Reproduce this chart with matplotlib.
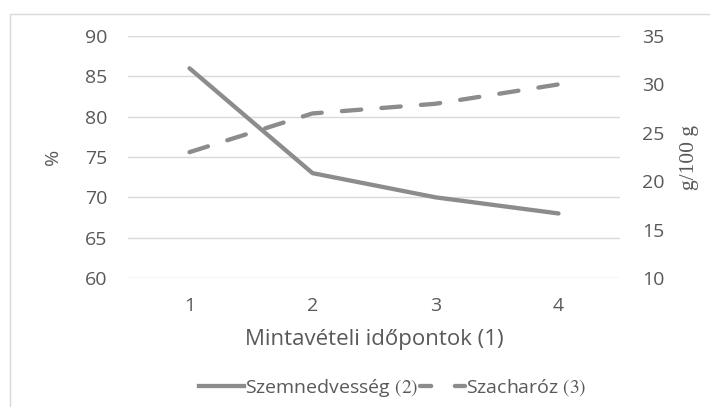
import matplotlib.pyplot as plt
from matplotlib.lines import Line2D
from matplotlib.patches import Rectangle

# data
idopont = [1, 2, 3, 4]
szemnedvesseg = [86, 73, 70, 68]      # %, left axis
szacharoz = [23, 27, 28, 30]          # g/100 g, right axis
left_ticks = [60, 65, 70, 75, 80, 85, 90]
right_ticks = [10, 15, 20, 25, 30, 35]

plt.rcParams['font.family'] = ['Open Sans', 'DejaVu Sans']
plt.rcParams['mathtext.fontset'] = 'stix'

line_col = '#8c8c8c'
text_col = '#595959'
grid_col = '#d9d9d9'

fig = plt.figure(figsize=(7.1, 4.07), dpi=100)
ax = fig.add_axes([128 / 710, 1 - 278 / 407, 492 / 710, 242 / 407])
ax2 = ax.twinx()

# outer chart frame (only left and top edges visible)
fig.patches.append(Rectangle((10 / 710, -0.5), 1.5, 1.5 - 14 / 407,
                             transform=fig.transFigure, fill=False,
                             edgecolor=grid_col, linewidth=1))

ax.set_xlim(0.5, 4.5)
ax.set_ylim(60, 90)
ax2.set_ylim(10, 35)
ax.set_yticks(left_ticks)
ax2.set_yticks(right_ticks)
ax.set_xticks(idopont)
ax.grid(axis='y', color=grid_col, linewidth=1)
ax.set_axisbelow(True)

for a in (ax, ax2):
    for s in a.spines.values():
        s.set_visible(False)
    a.tick_params(length=0, labelsize=14, labelcolor=text_col)
ax.tick_params(axis='y', pad=15)
ax2.tick_params(axis='y', pad=16)
ax.tick_params(axis='x', pad=14)

ax.plot(idopont, szemnedvesseg, color=line_col, linewidth=3.1,
        solid_capstyle='round', solid_joinstyle='round')
ax2.plot(idopont, szacharoz, color=line_col, linewidth=3.1,
         dashes=(4.5, 4.7), dash_capstyle='round')

ax.set_xlabel('Mintavételi időpontok (1)', fontsize=16, color=text_col,
              labelpad=10)
ax.set_ylabel('%', fontsize=14, color=text_col, labelpad=16)
ax2.set_ylabel('g/100 g', fontsize=15.5, color=text_col, labelpad=11,
               family='Liberation Serif', rotation=90)

handles = [Line2D([], [], color=line_col, linewidth=3.1),
           Line2D([], [], color=line_col, linewidth=3.1, dashes=(2.6, 5.5),
                  dash_capstyle='round')]
labels = [r'Szemnedvesség $\mathrm{(2)}$', r'Szacharóz $\mathrm{(3)}$']
fig.legend(handles, labels, loc='center', bbox_to_anchor=(393 / 710, 1 - 388 / 407),
           ncol=2, frameon=False, fontsize=14, labelcolor=text_col,
           handlelength=2.3, handletextpad=0.05, columnspacing=0.1,
           borderaxespad=0)

fig.savefig('out.png', dpi=100)
